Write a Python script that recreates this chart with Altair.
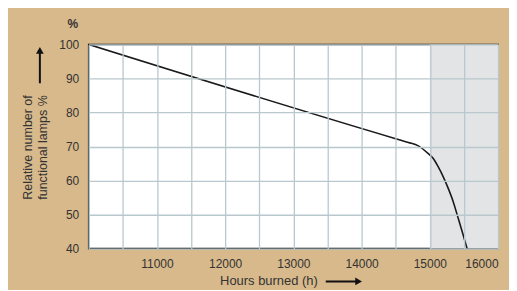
import altair as alt
import pandas as pd

hours = [10000, 14500, 14686, 14832, 14978, 15051, 15124, 15197, 15270, 15343, 15416, 15489, 15552]
pct = [100, 72.3, 71.2, 70.2, 67.9, 66.5, 64.0, 61.1, 57.7, 53.8, 48.9, 44.0, 39.6]
shade_start = [15000]
shade_end = [16000]
x_grid = list(range(10000, 16001, 500))
y_ticks = [40, 50, 60, 70, 80, 90, 100]

TAN = "#d8b98b"
TXT = "#333333"
NARROW = "Liberation Sans Narrow, Arial Narrow, Liberation Sans, Arial"

line_df = pd.DataFrame({"h": hours, "p": pct})
shade_df = pd.DataFrame({"a": shade_start, "b": shade_end})

xs = alt.Scale(domain=[10000, 16000], nice=False, zero=False)
ys = alt.Scale(domain=[40, 100], nice=False, zero=False)

xaxis = alt.Axis(values=x_grid, format="d", title=None,
                 labelExpr="datum.value % 1000 == 0 && datum.value > 10000 ? datum.label : ''",
                 grid=True, gridColor="#b9c8cd", gridWidth=1.3, domain=False, ticks=False,
                 labelPadding=10, labelFont=NARROW, labelFontSize=12, labelColor=TXT, zindex=1)
yaxis = alt.Axis(values=y_ticks, title=["Relative number of", "functional lamps %"],
                 grid=True, gridColor="#b9c8cd", gridWidth=1.3, domain=False, ticks=False,
                 labelPadding=10, labelFont=NARROW, labelFontSize=12, labelColor=TXT,
                 titleFont="Liberation Sans, Arial", titleFontSize=12.5, titleFontWeight="normal",
                 titleColor=TXT, titleX=-61, titleY=103, titleAngle=-90,
                 titleAlign="center", titleBaseline="middle", titleLineHeight=15, zindex=1)

shade = alt.Chart(shade_df).mark_rect(color="#e3e4e6").encode(
    x=alt.X("a:Q", scale=xs, axis=xaxis),
    x2="b:Q",
)

line = alt.Chart(line_df).mark_line(color="#1a1a1a", strokeWidth=1.6, interpolate="monotone", clip=True).encode(
    x=alt.X("h:Q", scale=xs, axis=xaxis),
    y=alt.Y("p:Q", scale=ys, axis=yaxis),
)

# annotations: axis arrows, x title, % unit
xtitle = alt.Chart(pd.DataFrame({"t": ["Hours burned (h)"]})).mark_text(
    font="Liberation Sans, Arial", fontSize=13, color=TXT, align="center", baseline="middle"
).encode(text="t:N", x=alt.value(181), y=alt.value(238))

xarrow = alt.Chart(pd.DataFrame({"k": [1]})).mark_rule(color="#111111", strokeWidth=2).encode(
    x=alt.value(238), x2=alt.value(270), y=alt.value(238))
xhead = alt.Chart(pd.DataFrame({"k": [1]})).mark_point(
    shape="triangle-right", filled=True, color="#111111", size=60, opacity=1).encode(
    x=alt.value(271), y=alt.value(238))

yarrow = alt.Chart(pd.DataFrame({"k": [1]})).mark_rule(color="#111111", strokeWidth=2).encode(
    x=alt.value(-49), y=alt.value(39), y2=alt.value(8))
yhead = alt.Chart(pd.DataFrame({"k": [1]})).mark_point(
    shape="triangle-up", filled=True, color="#111111", size=60, opacity=1).encode(
    x=alt.value(-49), y=alt.value(6))

pct_label = alt.Chart(pd.DataFrame({"t": ["%"]})).mark_text(
    font="Liberation Sans, Arial", fontSize=12, fontWeight="bold", color=TXT,
    align="center", baseline="middle").encode(text="t:N", x=alt.value(-16), y=alt.value(-20))

chart = alt.layer(shade, line, xtitle, xarrow, xhead, yarrow, yhead, pct_label).properties(
    width=411, height=205,
    background=TAN,
    padding={"left": 81, "top": 36, "right": 11, "bottom": 41},
    autosize=alt.AutoSizeParams(type="none"),
).configure_view(
    fill="white", stroke="#111111", strokeWidth=1.5
)

chart.save("out.html", embed_options={"renderer": "svg", "actions": False})
